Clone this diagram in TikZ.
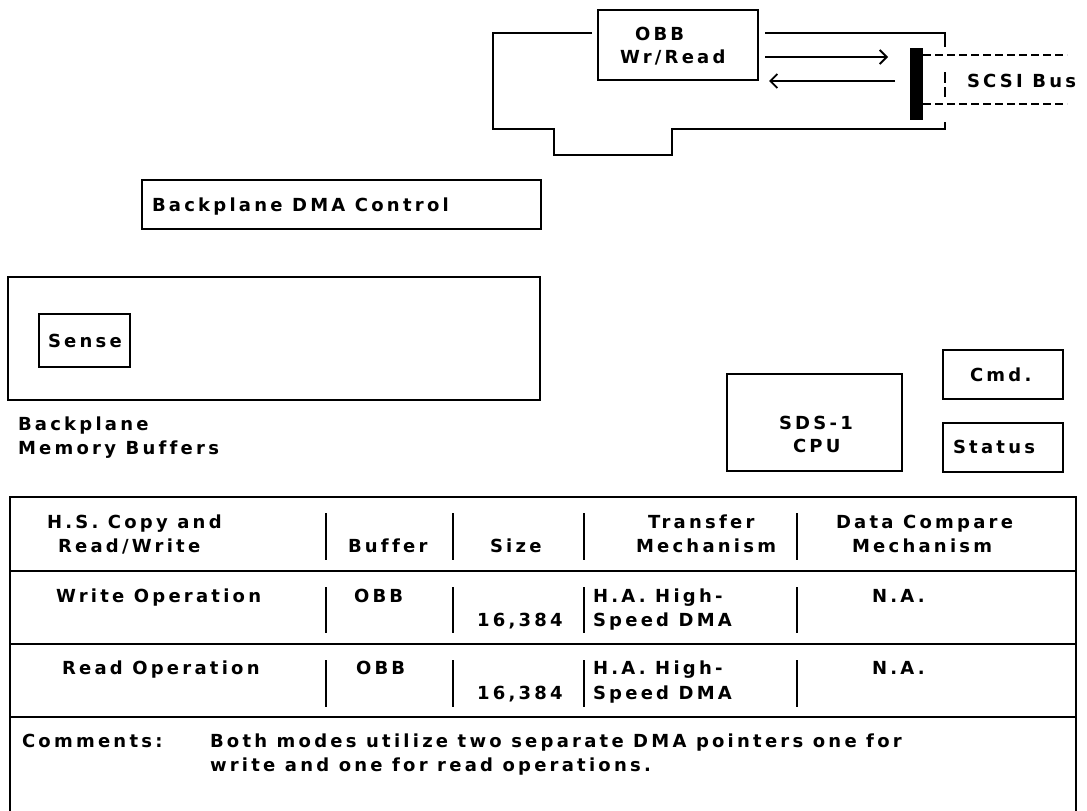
\documentclass[tikz,border=0pt]{standalone}
\usepackage{fontspec}
\newfontfamily\dmfont[LetterSpace=18,Ligatures=NoCommon]{DejaVu Sans}
\usetikzlibrary{arrows.meta}
\newcommand{\lblfont}{\dmfont\bfseries\fontsize{18}{20}\selectfont}
\tikzset{
  box/.style={draw, line width=1.8pt, inner sep=0pt, outer sep=0pt, anchor=north west},
  txt/.style={inner sep=0pt, outer sep=0pt, anchor=base west, font=\lblfont},
  sep/.style={line width=1.8pt},
  rule/.style={line width=1.8pt},
  busdash/.style={line width=1.8pt, dash pattern=on 8pt off 4pt},
  chev/.style={-{Straight Barb[length=7pt,width=14pt,line width=1.8pt]}, line width=1.6pt}
}
\begin{document}
\begin{tikzpicture}[x=1pt,y=-1pt,line width=1.8pt]
\useasboundingbox (0,0) rectangle (1087,811);

% ---------- top card ----------
\node[box, minimum width=160pt, minimum height=70pt] (obb) at (598,10) {};
\node[txt] (obbA) at (635,40) {OBB};
\node[txt] (obbB) at (620,63) {Wr/Read};
\draw (592,33) -- (493,33) -- (493,129) -- (554,129) -- (554,155) -- (672,155) -- (672,129) -- (945,129) -- (945,122);
\draw (765,33) -- (945,33) -- (945,47);
\draw[dash pattern=on 11pt off 4pt] (945,72) -- (945,97);
\fill (910,48) rectangle (923,120);
\coordinate (busAs) at (923,55);  \coordinate (busAe) at (1067,55);
\coordinate (busBs) at (923,104); \coordinate (busBe) at (1067,104);
\draw[busdash] (busAs) -- (busAe);
\draw[busdash] (busBs) -- (busBe);
\node[txt] (scsi) at (967,87) {SCSI Bus};
\coordinate (wrS) at (765,57); \coordinate (wrE) at (888,57);
\coordinate (rdS) at (895,81); \coordinate (rdE) at (769,81);
\draw[chev] (wrS) -- (wrE);
\draw[chev] (rdS) -- (rdE);

% ---------- middle ----------
\node[box, minimum width=399pt, minimum height=49pt] (dma) at (142,180) {};
\node[txt] (dmat) at (152,211) {Backplane DMA Control};
\node[box, minimum width=532pt, minimum height=123pt] (mem) at (8,277) {};
\node[box, minimum width=91pt, minimum height=53pt] (sense) at (39,314) {};
\node[txt] (senset) at (48,347) {Sense};
\node[txt] (memA) at (18,430) {Backplane};
\node[txt] (memB) at (18,454) {Memory Buffers};

\node[box, minimum width=175pt, minimum height=97pt] (cpu) at (727,374) {};
\node[txt] (cpuA) at (779,429) {SDS-1};
\node[txt] (cpuB) at (793,452) {CPU};
\node[box, minimum width=120pt, minimum height=49pt] (cmd) at (943,350) {};
\node[txt] (cmdt) at (970,381) {Cmd.};
\node[box, minimum width=120pt, minimum height=49pt] (stat) at (943,423) {};
\node[txt] (statt) at (953,453) {Status};

% ---------- table ----------
\draw[rule] (10,811) -- (10,497) -- (1076,497) -- (1076,811);
\draw[rule] (10,571) -- (1076,571);
\draw[rule] (10,644) -- (1076,644);
\draw[line width=2.6pt] (10,717) -- (1076,717);
\foreach \x in {326,453,584,797}{
  \draw[sep] (\x,513) -- (\x,560);
  \draw[sep] (\x,587) -- (\x,633);
  \draw[sep] (\x,660) -- (\x,707);
}
\node[txt] (h1a) at (47,528) {H.S. Copy and};
\node[txt] (h1b) at (58,552) {Read/Write};
\node[txt] (h2) at (348,552) {Buffer};
\node[txt] (h3) at (490,552) {Size};
\node[txt] (h4a) at (648,528) {Transfer};
\node[txt] (h4b) at (636,552) {Mechanism};
\node[txt] (h5a) at (836,528) {Data Compare};
\node[txt] (h5b) at (852,552) {Mechanism};

\node[txt] (r1a) at (56,602) {Write Operation};
\node[txt] (r1b) at (354,602) {OBB};
\node[txt] (r1c) at (477,626) {16,384};
\node[txt] (r1d) at (593,602) {H.A. High-};
\node[txt] (r1e) at (593,626) {Speed DMA};
\node[txt] (r1f) at (872,602) {N.A.};

\node[txt] (r2a) at (62,674) {Read Operation};
\node[txt] (r2b) at (356,674) {OBB};
\node[txt] (r2c) at (477,699) {16,384};
\node[txt] (r2d) at (593,674) {H.A. High-};
\node[txt] (r2e) at (593,699) {Speed DMA};
\node[txt] (r2f) at (872,674) {N.A.};

\node[txt] (cm0) at (22,747) {Comments:};
\node[txt] (cm1) at (210,747) {Both modes utilize two separate DMA pointers one for};
\node[txt] (cm2) at (210,771) {write and one for read operations.};
\end{tikzpicture}
\end{document}
